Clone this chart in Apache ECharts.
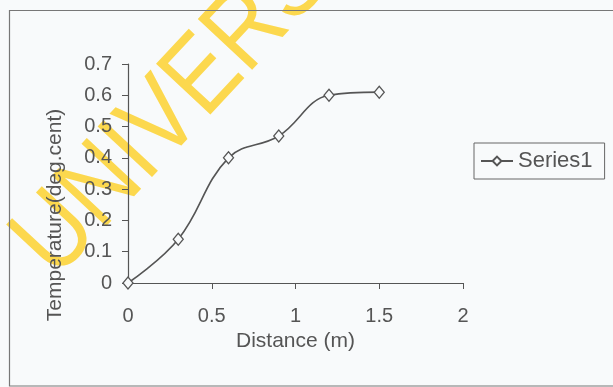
<!DOCTYPE html>
<html>
<head>
<meta charset="utf-8">
<script src="https://cdn.jsdelivr.net/npm/echarts@6/dist/echarts.min.js"></script>
<style>
  html, body { margin: 0; padding: 0; background: #f8fafb; }
  #chart { width: 613px; height: 387px; }
</style>
</head>
<body>
<div id="chart"></div>
<script>
// Measured temperature rise along the sample
const distances = [0, 0.3, 0.6, 0.9, 1.2, 1.5];
const temperatures = [0, 0.14, 0.40, 0.47, 0.60, 0.61];
const seriesName = 'Series1';
const xTitle = 'Distance (m)';
const yTitle = 'Temperature(deg.cent)';
const stampText = 'UNIVERSITY';

const ink = '#555';
const font = 'Liberation Sans, Arial, sans-serif';

const chart = echarts.init(document.getElementById('chart'), null, { renderer: 'canvas' });

chart.setOption({
  backgroundColor: '#f8fafb',
  animation: false,
  grid: { left: 128, right: 150, top: 64, bottom: 104 },
  legend: {
    data: [seriesName],
    left: 474, top: 143,
    orient: 'vertical',
    padding: [7, 12, 7, 6],
    borderColor: '#666', borderWidth: 1,
    itemWidth: 32, itemHeight: 11, itemGap: 0,
    textStyle: { color: ink, fontSize: 22, fontFamily: font }
  },
  xAxis: {
    type: 'value', min: 0, max: 2, interval: 0.5,
    name: xTitle, nameLocation: 'middle', nameGap: 42,
    nameTextStyle: { color: ink, fontSize: 21, fontFamily: font },
    axisLine: { show: true, lineStyle: { color: ink, width: 1.2 } },
    axisTick: { show: true, length: 6, lineStyle: { color: ink } },
    axisLabel: { color: ink, fontSize: 20, fontFamily: font, margin: 23,
      formatter: v => String(v) },
    splitLine: { show: false }
  },
  yAxis: {
    type: 'value', min: 0, max: 0.7, interval: 0.1,
    name: yTitle, nameLocation: 'middle', nameGap: 62,
    nameTextStyle: { color: ink, fontSize: 21, fontFamily: font, padding: [0, 83, 0, 0] },
    axisLine: { show: true, lineStyle: { color: ink, width: 1.2 } },
    axisTick: { show: true, length: 6, lineStyle: { color: ink } },
    axisLabel: { color: ink, fontSize: 20, fontFamily: font, margin: 16,
      formatter: v => (v === 0 ? '0' : v.toFixed(1)) },
    splitLine: { show: false }
  },
  series: [{
    name: seriesName,
    type: 'line',
    data: distances.map((d, i) => [d, temperatures[i]]),
    smooth: 0.4,
    symbol: 'diamond',
    symbolSize: [10, 12],
    showAllSymbol: true,
    lineStyle: { color: ink, width: 1.6 },
    itemStyle: { color: '#f8fafb', borderColor: ink, borderWidth: 1.3 }
  }],
  graphic: [
    {
      // diagonal stamp sits beneath the chart marks
      type: 'text', silent: true, z: -10,
      x: 34, y: 260, rotation: 47 * Math.PI / 180, scaleX: 0.85, scaleY: 1,
      style: {
        text: stampText, x: 0, y: 0,
        fill: '#fcd84e', font: '108px Liberation Sans, Arial, sans-serif',
        align: 'left', verticalAlign: 'middle'
      }
    },
    {
      type: 'rect', silent: true, z: -5,
      shape: { x: 9.5, y: 10.5, width: 700, height: 375.5 },
      style: { fill: 'none', stroke: '#777', lineWidth: 1.2 }
    }
  ]
});
</script>
</body>
</html>
